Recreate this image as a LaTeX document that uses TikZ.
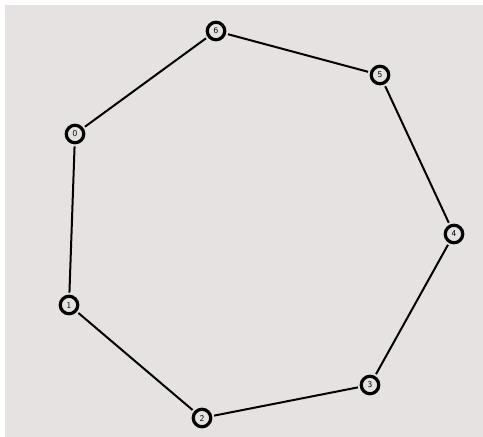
\documentclass[tikz,border=0pt]{standalone}
\usepackage{tikz}
\usetikzlibrary{positioning}
\definecolor{bggray}{RGB}{230,226,226}

\begin{document}
\begin{tikzpicture}[x=1pt, y=-1pt, vertex/.style={circle, draw, line width=3.2pt, inner sep=0pt, minimum size=17.5pt, font=\sffamily\fontsize{9}{9}\selectfont}, edge/.style={line width=2pt, shorten >=2pt, shorten <=2pt}]
            \useasboundingbox (0,0) rectangle (483,437);
            \fill[bggray] (5,5) rectangle (483,437);
            \node[vertex] (n0) at (75,134) {0};
            \node[vertex] (n1) at (69,305) {1};
            \node[vertex] (n2) at (202,418) {2};
            \node[vertex] (n3) at (370,385) {3};
            \node[vertex] (n4) at (454,234) {4};
            \node[vertex] (n5) at (380,75) {5};
            \node[vertex] (n6) at (216,31) {6};

            \draw[edge] (n0) -- (n6);
            \draw[edge] (n6) -- (n5);
            \draw[edge] (n5) -- (n4);
            \draw[edge] (n4) -- (n3);
            \draw[edge] (n3) -- (n2);
            \draw[edge] (n2) -- (n1);
            \draw[edge] (n1) -- (n0);
        \end{tikzpicture}
\end{document}
